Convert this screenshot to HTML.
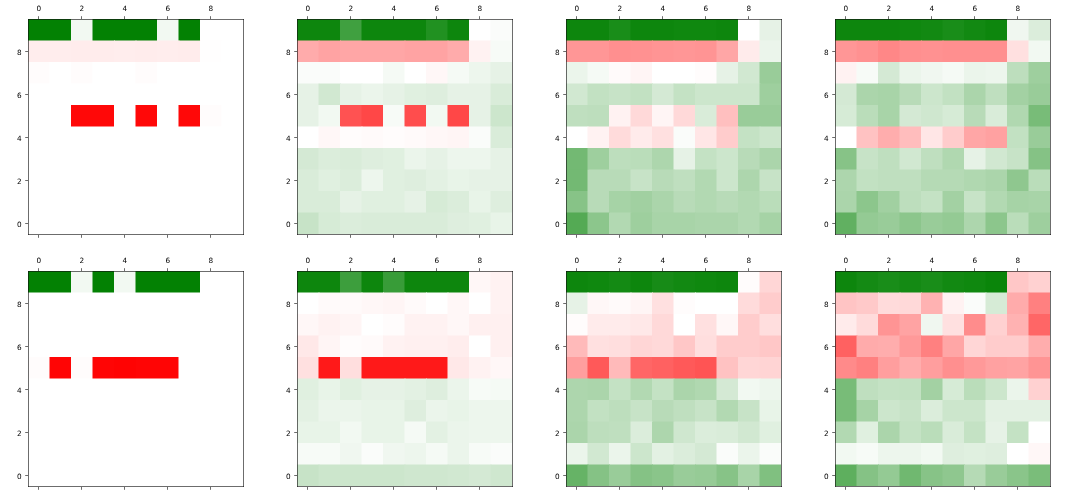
<!DOCTYPE html><html><head><meta charset="utf-8"><title>heatmaps</title><style>html,body{margin:0;padding:0;background:#fff}svg{display:block;will-change:transform}text{font-family:"DejaVu Sans","Liberation Sans",sans-serif;font-size:7.3px;fill:#000}line{stroke:#111;stroke-width:0.62}</style></head><body>
<svg width="1077" height="501" viewBox="0 0 1077 501">
<rect width="1077" height="501" fill="#fff"/>
<g>
<g>
<rect x="28" y="19" width="44" height="22.5" fill="#038103"/>
<rect x="71" y="19" width="22.5" height="22.5" fill="#f2f9f2"/>
<rect x="92.5" y="19" width="65.5" height="22.5" fill="#038103"/>
<rect x="157" y="19" width="22.5" height="22.5" fill="#f2f9f2"/>
<rect x="178.5" y="19" width="22.5" height="22.5" fill="#038103"/>
<rect x="200" y="19" width="43" height="22.5" fill="#ffffff"/>
<rect x="28" y="40.5" width="44" height="22.5" fill="#ffeded"/>
<rect x="71" y="40.5" width="44" height="22.5" fill="#ffecec"/>
<rect x="114" y="40.5" width="22.5" height="22.5" fill="#ffeded"/>
<rect x="135.5" y="40.5" width="22.5" height="22.5" fill="#ffecec"/>
<rect x="157" y="40.5" width="22.5" height="22.5" fill="#ffeded"/>
<rect x="178.5" y="40.5" width="22.5" height="22.5" fill="#ffecec"/>
<rect x="200" y="40.5" width="22.5" height="22.5" fill="#fffefe"/>
<rect x="221.5" y="40.5" width="21.5" height="22.5" fill="#ffffff"/>
<rect x="28" y="62" width="22.5" height="22.5" fill="#fffcfc"/>
<rect x="49.5" y="62" width="22.5" height="22.5" fill="#ffffff"/>
<rect x="71" y="62" width="22.5" height="22.5" fill="#fffcfc"/>
<rect x="92.5" y="62" width="44" height="22.5" fill="#ffffff"/>
<rect x="135.5" y="62" width="22.5" height="22.5" fill="#fffcfc"/>
<rect x="157" y="62" width="86" height="22.5" fill="#ffffff"/>
<rect x="28" y="83.5" width="215" height="22.5" fill="#ffffff"/>
<rect x="28" y="105" width="44" height="22.5" fill="#ffffff"/>
<rect x="71" y="105" width="44" height="22.5" fill="#ff0808"/>
<rect x="114" y="105" width="22.5" height="22.5" fill="#ffffff"/>
<rect x="135.5" y="105" width="22.5" height="22.5" fill="#ff0808"/>
<rect x="157" y="105" width="22.5" height="22.5" fill="#ffffff"/>
<rect x="178.5" y="105" width="22.5" height="22.5" fill="#ff0808"/>
<rect x="200" y="105" width="22.5" height="22.5" fill="#fffcfc"/>
<rect x="221.5" y="105" width="21.5" height="22.5" fill="#ffffff"/>
<rect x="28" y="126.5" width="215" height="22.5" fill="#ffffff"/>
<rect x="28" y="148" width="215" height="22.5" fill="#ffffff"/>
<rect x="28" y="169.5" width="215" height="22.5" fill="#ffffff"/>
<rect x="28" y="191" width="215" height="22.5" fill="#ffffff"/>
<rect x="28" y="212.5" width="215" height="21.5" fill="#ffffff"/>
</g>
<line x1="28.5" y1="19" x2="28.5" y2="235.0"/><line x1="243.5" y1="19" x2="243.5" y2="235.0"/><line x1="28" y1="19.5" x2="244.0" y2="19.5" stroke-width="0.9"/><line x1="28" y1="234.5" x2="244.0" y2="234.5" stroke-width="0.9"/>
<line x1="38.5" x2="38.5" y1="19" y2="16.2"/>
<line x1="38.5" x2="38.5" y1="235.0" y2="237.8"/>
<text x="38.75" y="11.40" text-anchor="middle">0</text>
<line x1="28" x2="25.2" y1="223.5" y2="223.5"/>
<text x="21.70" y="226.65" text-anchor="end">0</text>
<line x1="81.5" x2="81.5" y1="19" y2="16.2"/>
<line x1="81.5" x2="81.5" y1="235.0" y2="237.8"/>
<text x="81.75" y="11.40" text-anchor="middle">2</text>
<line x1="28" x2="25.2" y1="180.5" y2="180.5"/>
<text x="21.70" y="183.65" text-anchor="end">2</text>
<line x1="124.5" x2="124.5" y1="19" y2="16.2"/>
<line x1="124.5" x2="124.5" y1="235.0" y2="237.8"/>
<text x="124.75" y="11.40" text-anchor="middle">4</text>
<line x1="28" x2="25.2" y1="137.5" y2="137.5"/>
<text x="21.70" y="140.65" text-anchor="end">4</text>
<line x1="167.5" x2="167.5" y1="19" y2="16.2"/>
<line x1="167.5" x2="167.5" y1="235.0" y2="237.8"/>
<text x="167.75" y="11.40" text-anchor="middle">6</text>
<line x1="28" x2="25.2" y1="94.5" y2="94.5"/>
<text x="21.70" y="97.65" text-anchor="end">6</text>
<line x1="210.5" x2="210.5" y1="19" y2="16.2"/>
<line x1="210.5" x2="210.5" y1="235.0" y2="237.8"/>
<text x="210.75" y="11.40" text-anchor="middle">8</text>
<line x1="28" x2="25.2" y1="51.5" y2="51.5"/>
<text x="21.70" y="54.65" text-anchor="end">8</text>
</g>
<g>
<g>
<rect x="297" y="19" width="44" height="22.5" fill="#0d860d"/>
<rect x="340" y="19" width="22.5" height="22.5" fill="#40a040"/>
<rect x="361.5" y="19" width="65.5" height="22.5" fill="#0d860d"/>
<rect x="426" y="19" width="22.5" height="22.5" fill="#219121"/>
<rect x="447.5" y="19" width="22.5" height="22.5" fill="#0d860d"/>
<rect x="469" y="19" width="22.5" height="22.5" fill="#ffffff"/>
<rect x="490.5" y="19" width="21.5" height="22.5" fill="#fafcfa"/>
<rect x="297" y="40.5" width="22.5" height="22.5" fill="#ffabab"/>
<rect x="318.5" y="40.5" width="22.5" height="22.5" fill="#ffa3a3"/>
<rect x="340" y="40.5" width="65.5" height="22.5" fill="#ffa6a6"/>
<rect x="404.5" y="40.5" width="44" height="22.5" fill="#ffa3a3"/>
<rect x="447.5" y="40.5" width="22.5" height="22.5" fill="#ffabab"/>
<rect x="469" y="40.5" width="22.5" height="22.5" fill="#fff2f2"/>
<rect x="490.5" y="40.5" width="21.5" height="22.5" fill="#f7fbf7"/>
<rect x="297" y="62" width="44" height="22.5" fill="#fafcfa"/>
<rect x="340" y="62" width="44" height="22.5" fill="#ffffff"/>
<rect x="383" y="62" width="22.5" height="22.5" fill="#f5faf5"/>
<rect x="404.5" y="62" width="22.5" height="22.5" fill="#ffffff"/>
<rect x="426" y="62" width="22.5" height="22.5" fill="#fff7f7"/>
<rect x="447.5" y="62" width="22.5" height="22.5" fill="#f5faf5"/>
<rect x="469" y="62" width="22.5" height="22.5" fill="#edf6ed"/>
<rect x="490.5" y="62" width="21.5" height="22.5" fill="#e6f2e6"/>
<rect x="297" y="83.5" width="22.5" height="22.5" fill="#e6f2e6"/>
<rect x="318.5" y="83.5" width="22.5" height="22.5" fill="#d1e8d1"/>
<rect x="340" y="83.5" width="22.5" height="22.5" fill="#e6f2e6"/>
<rect x="361.5" y="83.5" width="22.5" height="22.5" fill="#ebf5eb"/>
<rect x="383" y="83.5" width="22.5" height="22.5" fill="#e6f2e6"/>
<rect x="404.5" y="83.5" width="22.5" height="22.5" fill="#e0f0e0"/>
<rect x="426" y="83.5" width="22.5" height="22.5" fill="#deeede"/>
<rect x="447.5" y="83.5" width="44" height="22.5" fill="#e6f2e6"/>
<rect x="490.5" y="83.5" width="21.5" height="22.5" fill="#d9ecd9"/>
<rect x="297" y="105" width="22.5" height="22.5" fill="#e6f2e6"/>
<rect x="318.5" y="105" width="22.5" height="22.5" fill="#f2f9f2"/>
<rect x="340" y="105" width="22.5" height="22.5" fill="#ff5252"/>
<rect x="361.5" y="105" width="22.5" height="22.5" fill="#ff4747"/>
<rect x="383" y="105" width="22.5" height="22.5" fill="#f7fbf7"/>
<rect x="404.5" y="105" width="22.5" height="22.5" fill="#ff4d4d"/>
<rect x="426" y="105" width="22.5" height="22.5" fill="#f2f9f2"/>
<rect x="447.5" y="105" width="22.5" height="22.5" fill="#ff4747"/>
<rect x="469" y="105" width="22.5" height="22.5" fill="#e6f2e6"/>
<rect x="490.5" y="105" width="21.5" height="22.5" fill="#cce6cc"/>
<rect x="297" y="126.5" width="22.5" height="22.5" fill="#ffffff"/>
<rect x="318.5" y="126.5" width="22.5" height="22.5" fill="#fff7f7"/>
<rect x="340" y="126.5" width="22.5" height="22.5" fill="#fffcfc"/>
<rect x="361.5" y="126.5" width="22.5" height="22.5" fill="#fffafa"/>
<rect x="383" y="126.5" width="22.5" height="22.5" fill="#fffcfc"/>
<rect x="404.5" y="126.5" width="22.5" height="22.5" fill="#fffafa"/>
<rect x="426" y="126.5" width="22.5" height="22.5" fill="#fff7f7"/>
<rect x="447.5" y="126.5" width="22.5" height="22.5" fill="#fff5f5"/>
<rect x="469" y="126.5" width="22.5" height="22.5" fill="#fafcfa"/>
<rect x="490.5" y="126.5" width="21.5" height="22.5" fill="#d9ecd9"/>
<rect x="297" y="148" width="22.5" height="22.5" fill="#d4e9d4"/>
<rect x="318.5" y="148" width="22.5" height="22.5" fill="#dbeddb"/>
<rect x="340" y="148" width="22.5" height="22.5" fill="#d9ecd9"/>
<rect x="361.5" y="148" width="22.5" height="22.5" fill="#deeede"/>
<rect x="383" y="148" width="22.5" height="22.5" fill="#e0f0e0"/>
<rect x="404.5" y="148" width="22.5" height="22.5" fill="#ebf5eb"/>
<rect x="426" y="148" width="22.5" height="22.5" fill="#e6f2e6"/>
<rect x="447.5" y="148" width="44" height="22.5" fill="#edf6ed"/>
<rect x="490.5" y="148" width="21.5" height="22.5" fill="#e6f2e6"/>
<rect x="297" y="169.5" width="22.5" height="22.5" fill="#d9ecd9"/>
<rect x="318.5" y="169.5" width="22.5" height="22.5" fill="#e0f0e0"/>
<rect x="340" y="169.5" width="22.5" height="22.5" fill="#dbeddb"/>
<rect x="361.5" y="169.5" width="22.5" height="22.5" fill="#edf6ed"/>
<rect x="383" y="169.5" width="22.5" height="22.5" fill="#e0f0e0"/>
<rect x="404.5" y="169.5" width="22.5" height="22.5" fill="#deeede"/>
<rect x="426" y="169.5" width="22.5" height="22.5" fill="#e3f1e3"/>
<rect x="447.5" y="169.5" width="22.5" height="22.5" fill="#e8f4e8"/>
<rect x="469" y="169.5" width="43" height="22.5" fill="#e6f2e6"/>
<rect x="297" y="191" width="44" height="22.5" fill="#d9ecd9"/>
<rect x="340" y="191" width="22.5" height="22.5" fill="#e6f2e6"/>
<rect x="361.5" y="191" width="44" height="22.5" fill="#e0f0e0"/>
<rect x="404.5" y="191" width="22.5" height="22.5" fill="#e6f2e6"/>
<rect x="426" y="191" width="22.5" height="22.5" fill="#d6ebd6"/>
<rect x="447.5" y="191" width="22.5" height="22.5" fill="#dbeddb"/>
<rect x="469" y="191" width="22.5" height="22.5" fill="#e8f4e8"/>
<rect x="490.5" y="191" width="21.5" height="22.5" fill="#deeede"/>
<rect x="297" y="212.5" width="22.5" height="21.5" fill="#c7e3c7"/>
<rect x="318.5" y="212.5" width="22.5" height="21.5" fill="#d6ebd6"/>
<rect x="340" y="212.5" width="22.5" height="21.5" fill="#dbeddb"/>
<rect x="361.5" y="212.5" width="87" height="21.5" fill="#d9ecd9"/>
<rect x="447.5" y="212.5" width="22.5" height="21.5" fill="#deeede"/>
<rect x="469" y="212.5" width="22.5" height="21.5" fill="#e0f0e0"/>
<rect x="490.5" y="212.5" width="21.5" height="21.5" fill="#e8f4e8"/>
</g>
<line x1="297.5" y1="19" x2="297.5" y2="235.0"/><line x1="512.5" y1="19" x2="512.5" y2="235.0"/><line x1="297" y1="19.5" x2="513.0" y2="19.5" stroke-width="0.9"/><line x1="297" y1="234.5" x2="513.0" y2="234.5" stroke-width="0.9"/>
<line x1="307.5" x2="307.5" y1="19" y2="16.2"/>
<line x1="307.5" x2="307.5" y1="235.0" y2="237.8"/>
<text x="307.75" y="11.40" text-anchor="middle">0</text>
<line x1="297" x2="294.2" y1="223.5" y2="223.5"/>
<text x="290.70" y="226.65" text-anchor="end">0</text>
<line x1="350.5" x2="350.5" y1="19" y2="16.2"/>
<line x1="350.5" x2="350.5" y1="235.0" y2="237.8"/>
<text x="350.75" y="11.40" text-anchor="middle">2</text>
<line x1="297" x2="294.2" y1="180.5" y2="180.5"/>
<text x="290.70" y="183.65" text-anchor="end">2</text>
<line x1="393.5" x2="393.5" y1="19" y2="16.2"/>
<line x1="393.5" x2="393.5" y1="235.0" y2="237.8"/>
<text x="393.75" y="11.40" text-anchor="middle">4</text>
<line x1="297" x2="294.2" y1="137.5" y2="137.5"/>
<text x="290.70" y="140.65" text-anchor="end">4</text>
<line x1="436.5" x2="436.5" y1="19" y2="16.2"/>
<line x1="436.5" x2="436.5" y1="235.0" y2="237.8"/>
<text x="436.75" y="11.40" text-anchor="middle">6</text>
<line x1="297" x2="294.2" y1="94.5" y2="94.5"/>
<text x="290.70" y="97.65" text-anchor="end">6</text>
<line x1="479.5" x2="479.5" y1="19" y2="16.2"/>
<line x1="479.5" x2="479.5" y1="235.0" y2="237.8"/>
<text x="479.75" y="11.40" text-anchor="middle">8</text>
<line x1="297" x2="294.2" y1="51.5" y2="51.5"/>
<text x="290.70" y="54.65" text-anchor="end">8</text>
</g>
<g>
<g>
<rect x="566" y="19" width="44" height="22.5" fill="#0d860d"/>
<rect x="609" y="19" width="22.5" height="22.5" fill="#198d19"/>
<rect x="630.5" y="19" width="44" height="22.5" fill="#0d860d"/>
<rect x="673.5" y="19" width="44" height="22.5" fill="#0f880f"/>
<rect x="716.5" y="19" width="22.5" height="22.5" fill="#0d860d"/>
<rect x="738" y="19" width="22.5" height="22.5" fill="#ffffff"/>
<rect x="759.5" y="19" width="21.5" height="22.5" fill="#e6f2e6"/>
<rect x="566" y="40.5" width="44" height="22.5" fill="#ff9696"/>
<rect x="609" y="40.5" width="22.5" height="22.5" fill="#ff8f8f"/>
<rect x="630.5" y="40.5" width="22.5" height="22.5" fill="#ff9191"/>
<rect x="652" y="40.5" width="22.5" height="22.5" fill="#ff9494"/>
<rect x="673.5" y="40.5" width="22.5" height="22.5" fill="#ff9696"/>
<rect x="695" y="40.5" width="22.5" height="22.5" fill="#ff9494"/>
<rect x="716.5" y="40.5" width="22.5" height="22.5" fill="#ffa6a6"/>
<rect x="738" y="40.5" width="22.5" height="22.5" fill="#ffebeb"/>
<rect x="759.5" y="40.5" width="21.5" height="22.5" fill="#ebf5eb"/>
<rect x="566" y="62" width="22.5" height="22.5" fill="#ebf5eb"/>
<rect x="587.5" y="62" width="22.5" height="22.5" fill="#f5faf5"/>
<rect x="609" y="62" width="22.5" height="22.5" fill="#fffafa"/>
<rect x="630.5" y="62" width="22.5" height="22.5" fill="#fff5f5"/>
<rect x="652" y="62" width="44" height="22.5" fill="#ffffff"/>
<rect x="695" y="62" width="22.5" height="22.5" fill="#fffcfc"/>
<rect x="716.5" y="62" width="22.5" height="22.5" fill="#e6f2e6"/>
<rect x="738" y="62" width="22.5" height="22.5" fill="#d1e8d1"/>
<rect x="759.5" y="62" width="21.5" height="22.5" fill="#99cc99"/>
<rect x="566" y="83.5" width="22.5" height="22.5" fill="#d1e8d1"/>
<rect x="587.5" y="83.5" width="22.5" height="22.5" fill="#c2e1c2"/>
<rect x="609" y="83.5" width="22.5" height="22.5" fill="#c7e3c7"/>
<rect x="630.5" y="83.5" width="22.5" height="22.5" fill="#c2e1c2"/>
<rect x="652" y="83.5" width="22.5" height="22.5" fill="#d4e9d4"/>
<rect x="673.5" y="83.5" width="22.5" height="22.5" fill="#c4e2c4"/>
<rect x="695" y="83.5" width="65.5" height="22.5" fill="#cce6cc"/>
<rect x="759.5" y="83.5" width="21.5" height="22.5" fill="#9ecf9e"/>
<rect x="566" y="105" width="22.5" height="22.5" fill="#bfdfbf"/>
<rect x="587.5" y="105" width="22.5" height="22.5" fill="#bddebd"/>
<rect x="609" y="105" width="22.5" height="22.5" fill="#fff2f2"/>
<rect x="630.5" y="105" width="22.5" height="22.5" fill="#ffd9d9"/>
<rect x="652" y="105" width="22.5" height="22.5" fill="#fff5f5"/>
<rect x="673.5" y="105" width="22.5" height="22.5" fill="#ffd9d9"/>
<rect x="695" y="105" width="22.5" height="22.5" fill="#d9ecd9"/>
<rect x="716.5" y="105" width="22.5" height="22.5" fill="#ffbfbf"/>
<rect x="738" y="105" width="43" height="22.5" fill="#99cc99"/>
<rect x="566" y="126.5" width="22.5" height="22.5" fill="#ffffff"/>
<rect x="587.5" y="126.5" width="22.5" height="22.5" fill="#fff2f2"/>
<rect x="609" y="126.5" width="22.5" height="22.5" fill="#ffdbdb"/>
<rect x="630.5" y="126.5" width="22.5" height="22.5" fill="#ffebeb"/>
<rect x="652" y="126.5" width="22.5" height="22.5" fill="#ffe0e0"/>
<rect x="673.5" y="126.5" width="22.5" height="22.5" fill="#fafcfa"/>
<rect x="695" y="126.5" width="22.5" height="22.5" fill="#ffe6e6"/>
<rect x="716.5" y="126.5" width="22.5" height="22.5" fill="#ffcccc"/>
<rect x="738" y="126.5" width="22.5" height="22.5" fill="#c4e2c4"/>
<rect x="759.5" y="126.5" width="21.5" height="22.5" fill="#cce6cc"/>
<rect x="566" y="148" width="22.5" height="22.5" fill="#73b973"/>
<rect x="587.5" y="148" width="22.5" height="22.5" fill="#9ecf9e"/>
<rect x="609" y="148" width="22.5" height="22.5" fill="#bddebd"/>
<rect x="630.5" y="148" width="22.5" height="22.5" fill="#baddba"/>
<rect x="652" y="148" width="22.5" height="22.5" fill="#add6ad"/>
<rect x="673.5" y="148" width="22.5" height="22.5" fill="#e6f2e6"/>
<rect x="695" y="148" width="22.5" height="22.5" fill="#c4e2c4"/>
<rect x="716.5" y="148" width="22.5" height="22.5" fill="#cce6cc"/>
<rect x="738" y="148" width="22.5" height="22.5" fill="#b8dbb8"/>
<rect x="759.5" y="148" width="21.5" height="22.5" fill="#abd5ab"/>
<rect x="566" y="169.5" width="22.5" height="22.5" fill="#73b973"/>
<rect x="587.5" y="169.5" width="44" height="22.5" fill="#b8dbb8"/>
<rect x="630.5" y="169.5" width="22.5" height="22.5" fill="#c7e3c7"/>
<rect x="652" y="169.5" width="22.5" height="22.5" fill="#b8dbb8"/>
<rect x="673.5" y="169.5" width="22.5" height="22.5" fill="#bfdfbf"/>
<rect x="695" y="169.5" width="22.5" height="22.5" fill="#b2d9b2"/>
<rect x="716.5" y="169.5" width="22.5" height="22.5" fill="#cce6cc"/>
<rect x="738" y="169.5" width="22.5" height="22.5" fill="#add6ad"/>
<rect x="759.5" y="169.5" width="21.5" height="22.5" fill="#c7e3c7"/>
<rect x="566" y="191" width="22.5" height="22.5" fill="#87c387"/>
<rect x="587.5" y="191" width="22.5" height="22.5" fill="#b8dbb8"/>
<rect x="609" y="191" width="22.5" height="22.5" fill="#a6d3a6"/>
<rect x="630.5" y="191" width="22.5" height="22.5" fill="#a1d0a1"/>
<rect x="652" y="191" width="22.5" height="22.5" fill="#abd5ab"/>
<rect x="673.5" y="191" width="22.5" height="22.5" fill="#b8dbb8"/>
<rect x="695" y="191" width="22.5" height="22.5" fill="#b2d9b2"/>
<rect x="716.5" y="191" width="22.5" height="22.5" fill="#b8dbb8"/>
<rect x="738" y="191" width="22.5" height="22.5" fill="#b2d9b2"/>
<rect x="759.5" y="191" width="21.5" height="22.5" fill="#baddba"/>
<rect x="566" y="212.5" width="22.5" height="21.5" fill="#54aa54"/>
<rect x="587.5" y="212.5" width="22.5" height="21.5" fill="#8cc68c"/>
<rect x="609" y="212.5" width="22.5" height="21.5" fill="#b2d9b2"/>
<rect x="630.5" y="212.5" width="22.5" height="21.5" fill="#9ecf9e"/>
<rect x="652" y="212.5" width="44" height="21.5" fill="#a8d4a8"/>
<rect x="695" y="212.5" width="44" height="21.5" fill="#abd5ab"/>
<rect x="738" y="212.5" width="22.5" height="21.5" fill="#b2d9b2"/>
<rect x="759.5" y="212.5" width="21.5" height="21.5" fill="#a6d3a6"/>
</g>
<line x1="566.5" y1="19" x2="566.5" y2="235.0"/><line x1="781.5" y1="19" x2="781.5" y2="235.0"/><line x1="566" y1="19.5" x2="782.0" y2="19.5" stroke-width="0.9"/><line x1="566" y1="234.5" x2="782.0" y2="234.5" stroke-width="0.9"/>
<line x1="576.5" x2="576.5" y1="19" y2="16.2"/>
<line x1="576.5" x2="576.5" y1="235.0" y2="237.8"/>
<text x="576.75" y="11.40" text-anchor="middle">0</text>
<line x1="566" x2="563.2" y1="223.5" y2="223.5"/>
<text x="559.70" y="226.65" text-anchor="end">0</text>
<line x1="619.5" x2="619.5" y1="19" y2="16.2"/>
<line x1="619.5" x2="619.5" y1="235.0" y2="237.8"/>
<text x="619.75" y="11.40" text-anchor="middle">2</text>
<line x1="566" x2="563.2" y1="180.5" y2="180.5"/>
<text x="559.70" y="183.65" text-anchor="end">2</text>
<line x1="662.5" x2="662.5" y1="19" y2="16.2"/>
<line x1="662.5" x2="662.5" y1="235.0" y2="237.8"/>
<text x="662.75" y="11.40" text-anchor="middle">4</text>
<line x1="566" x2="563.2" y1="137.5" y2="137.5"/>
<text x="559.70" y="140.65" text-anchor="end">4</text>
<line x1="705.5" x2="705.5" y1="19" y2="16.2"/>
<line x1="705.5" x2="705.5" y1="235.0" y2="237.8"/>
<text x="705.75" y="11.40" text-anchor="middle">6</text>
<line x1="566" x2="563.2" y1="94.5" y2="94.5"/>
<text x="559.70" y="97.65" text-anchor="end">6</text>
<line x1="748.5" x2="748.5" y1="19" y2="16.2"/>
<line x1="748.5" x2="748.5" y1="235.0" y2="237.8"/>
<text x="748.75" y="11.40" text-anchor="middle">8</text>
<line x1="566" x2="563.2" y1="51.5" y2="51.5"/>
<text x="559.70" y="54.65" text-anchor="end">8</text>
</g>
<g>
<g>
<rect x="835" y="19" width="65.5" height="22.5" fill="#0d860d"/>
<rect x="899.5" y="19" width="22.5" height="22.5" fill="#0f880f"/>
<rect x="921" y="19" width="22.5" height="22.5" fill="#128912"/>
<rect x="942.5" y="19" width="22.5" height="22.5" fill="#198d19"/>
<rect x="964" y="19" width="22.5" height="22.5" fill="#128912"/>
<rect x="985.5" y="19" width="22.5" height="22.5" fill="#0d860d"/>
<rect x="1007" y="19" width="22.5" height="22.5" fill="#f0f7f0"/>
<rect x="1028.5" y="19" width="21.5" height="22.5" fill="#dbeddb"/>
<rect x="835" y="40.5" width="22.5" height="22.5" fill="#ff9696"/>
<rect x="856.5" y="40.5" width="22.5" height="22.5" fill="#ff9191"/>
<rect x="878" y="40.5" width="22.5" height="22.5" fill="#ff8787"/>
<rect x="899.5" y="40.5" width="22.5" height="22.5" fill="#ff8f8f"/>
<rect x="921" y="40.5" width="22.5" height="22.5" fill="#ff9191"/>
<rect x="942.5" y="40.5" width="65.5" height="22.5" fill="#ff8f8f"/>
<rect x="1007" y="40.5" width="22.5" height="22.5" fill="#ffe0e0"/>
<rect x="1028.5" y="40.5" width="21.5" height="22.5" fill="#f2f9f2"/>
<rect x="835" y="62" width="22.5" height="22.5" fill="#fff2f2"/>
<rect x="856.5" y="62" width="22.5" height="22.5" fill="#f7fbf7"/>
<rect x="878" y="62" width="22.5" height="22.5" fill="#d4e9d4"/>
<rect x="899.5" y="62" width="22.5" height="22.5" fill="#ebf5eb"/>
<rect x="921" y="62" width="22.5" height="22.5" fill="#f0f7f0"/>
<rect x="942.5" y="62" width="22.5" height="22.5" fill="#f5faf5"/>
<rect x="964" y="62" width="22.5" height="22.5" fill="#ebf5eb"/>
<rect x="985.5" y="62" width="22.5" height="22.5" fill="#edf6ed"/>
<rect x="1007" y="62" width="22.5" height="22.5" fill="#bddebd"/>
<rect x="1028.5" y="62" width="21.5" height="22.5" fill="#9ecf9e"/>
<rect x="835" y="83.5" width="22.5" height="22.5" fill="#d4e9d4"/>
<rect x="856.5" y="83.5" width="22.5" height="22.5" fill="#abd5ab"/>
<rect x="878" y="83.5" width="22.5" height="22.5" fill="#a8d4a8"/>
<rect x="899.5" y="83.5" width="22.5" height="22.5" fill="#b8dbb8"/>
<rect x="921" y="83.5" width="22.5" height="22.5" fill="#cce6cc"/>
<rect x="942.5" y="83.5" width="22.5" height="22.5" fill="#c2e1c2"/>
<rect x="964" y="83.5" width="22.5" height="22.5" fill="#abd5ab"/>
<rect x="985.5" y="83.5" width="22.5" height="22.5" fill="#bfdfbf"/>
<rect x="1007" y="83.5" width="22.5" height="22.5" fill="#a3d1a3"/>
<rect x="1028.5" y="83.5" width="21.5" height="22.5" fill="#99cc99"/>
<rect x="835" y="105" width="22.5" height="22.5" fill="#d6ebd6"/>
<rect x="856.5" y="105" width="22.5" height="22.5" fill="#baddba"/>
<rect x="878" y="105" width="22.5" height="22.5" fill="#a8d4a8"/>
<rect x="899.5" y="105" width="22.5" height="22.5" fill="#d4e9d4"/>
<rect x="921" y="105" width="22.5" height="22.5" fill="#cfe7cf"/>
<rect x="942.5" y="105" width="22.5" height="22.5" fill="#d6ebd6"/>
<rect x="964" y="105" width="22.5" height="22.5" fill="#b8dbb8"/>
<rect x="985.5" y="105" width="22.5" height="22.5" fill="#d9ecd9"/>
<rect x="1007" y="105" width="22.5" height="22.5" fill="#b0d8b0"/>
<rect x="1028.5" y="105" width="21.5" height="22.5" fill="#78bc78"/>
<rect x="835" y="126.5" width="22.5" height="22.5" fill="#ffffff"/>
<rect x="856.5" y="126.5" width="22.5" height="22.5" fill="#ffc2c2"/>
<rect x="878" y="126.5" width="22.5" height="22.5" fill="#ffadad"/>
<rect x="899.5" y="126.5" width="22.5" height="22.5" fill="#ffbdbd"/>
<rect x="921" y="126.5" width="22.5" height="22.5" fill="#ffe6e6"/>
<rect x="942.5" y="126.5" width="22.5" height="22.5" fill="#ffcccc"/>
<rect x="964" y="126.5" width="22.5" height="22.5" fill="#ffa6a6"/>
<rect x="985.5" y="126.5" width="22.5" height="22.5" fill="#ffa1a1"/>
<rect x="1007" y="126.5" width="22.5" height="22.5" fill="#c2e1c2"/>
<rect x="1028.5" y="126.5" width="21.5" height="22.5" fill="#99cc99"/>
<rect x="835" y="148" width="22.5" height="22.5" fill="#87c387"/>
<rect x="856.5" y="148" width="22.5" height="22.5" fill="#c7e3c7"/>
<rect x="878" y="148" width="22.5" height="22.5" fill="#bfdfbf"/>
<rect x="899.5" y="148" width="22.5" height="22.5" fill="#d1e8d1"/>
<rect x="921" y="148" width="22.5" height="22.5" fill="#bfdfbf"/>
<rect x="942.5" y="148" width="22.5" height="22.5" fill="#b0d8b0"/>
<rect x="964" y="148" width="22.5" height="22.5" fill="#e6f2e6"/>
<rect x="985.5" y="148" width="22.5" height="22.5" fill="#d1e8d1"/>
<rect x="1007" y="148" width="22.5" height="22.5" fill="#c7e3c7"/>
<rect x="1028.5" y="148" width="21.5" height="22.5" fill="#85c285"/>
<rect x="835" y="169.5" width="22.5" height="22.5" fill="#add6ad"/>
<rect x="856.5" y="169.5" width="22.5" height="22.5" fill="#c2e1c2"/>
<rect x="878" y="169.5" width="44" height="22.5" fill="#bfdfbf"/>
<rect x="921" y="169.5" width="44" height="22.5" fill="#b5dab5"/>
<rect x="964" y="169.5" width="22.5" height="22.5" fill="#b0d8b0"/>
<rect x="985.5" y="169.5" width="22.5" height="22.5" fill="#abd5ab"/>
<rect x="1007" y="169.5" width="22.5" height="22.5" fill="#8fc78f"/>
<rect x="1028.5" y="169.5" width="21.5" height="22.5" fill="#baddba"/>
<rect x="835" y="191" width="22.5" height="22.5" fill="#abd5ab"/>
<rect x="856.5" y="191" width="22.5" height="22.5" fill="#8cc68c"/>
<rect x="878" y="191" width="22.5" height="22.5" fill="#a1d0a1"/>
<rect x="899.5" y="191" width="22.5" height="22.5" fill="#bddebd"/>
<rect x="921" y="191" width="22.5" height="22.5" fill="#c4e2c4"/>
<rect x="942.5" y="191" width="22.5" height="22.5" fill="#a3d1a3"/>
<rect x="964" y="191" width="22.5" height="22.5" fill="#c7e3c7"/>
<rect x="985.5" y="191" width="22.5" height="22.5" fill="#b2d9b2"/>
<rect x="1007" y="191" width="22.5" height="22.5" fill="#a6d3a6"/>
<rect x="1028.5" y="191" width="21.5" height="22.5" fill="#a8d4a8"/>
<rect x="835" y="212.5" width="22.5" height="21.5" fill="#61b061"/>
<rect x="856.5" y="212.5" width="22.5" height="21.5" fill="#94ca94"/>
<rect x="878" y="212.5" width="22.5" height="21.5" fill="#99cc99"/>
<rect x="899.5" y="212.5" width="22.5" height="21.5" fill="#8cc68c"/>
<rect x="921" y="212.5" width="22.5" height="21.5" fill="#99cc99"/>
<rect x="942.5" y="212.5" width="22.5" height="21.5" fill="#94ca94"/>
<rect x="964" y="212.5" width="22.5" height="21.5" fill="#add6ad"/>
<rect x="985.5" y="212.5" width="22.5" height="21.5" fill="#8cc68c"/>
<rect x="1007" y="212.5" width="22.5" height="21.5" fill="#baddba"/>
<rect x="1028.5" y="212.5" width="21.5" height="21.5" fill="#9ecf9e"/>
</g>
<line x1="835.5" y1="19" x2="835.5" y2="235.0"/><line x1="1050.5" y1="19" x2="1050.5" y2="235.0"/><line x1="835" y1="19.5" x2="1051.0" y2="19.5" stroke-width="0.9"/><line x1="835" y1="234.5" x2="1051.0" y2="234.5" stroke-width="0.9"/>
<line x1="845.5" x2="845.5" y1="19" y2="16.2"/>
<line x1="845.5" x2="845.5" y1="235.0" y2="237.8"/>
<text x="845.75" y="11.40" text-anchor="middle">0</text>
<line x1="835" x2="832.2" y1="223.5" y2="223.5"/>
<text x="828.70" y="226.65" text-anchor="end">0</text>
<line x1="888.5" x2="888.5" y1="19" y2="16.2"/>
<line x1="888.5" x2="888.5" y1="235.0" y2="237.8"/>
<text x="888.75" y="11.40" text-anchor="middle">2</text>
<line x1="835" x2="832.2" y1="180.5" y2="180.5"/>
<text x="828.70" y="183.65" text-anchor="end">2</text>
<line x1="931.5" x2="931.5" y1="19" y2="16.2"/>
<line x1="931.5" x2="931.5" y1="235.0" y2="237.8"/>
<text x="931.75" y="11.40" text-anchor="middle">4</text>
<line x1="835" x2="832.2" y1="137.5" y2="137.5"/>
<text x="828.70" y="140.65" text-anchor="end">4</text>
<line x1="974.5" x2="974.5" y1="19" y2="16.2"/>
<line x1="974.5" x2="974.5" y1="235.0" y2="237.8"/>
<text x="974.75" y="11.40" text-anchor="middle">6</text>
<line x1="835" x2="832.2" y1="94.5" y2="94.5"/>
<text x="828.70" y="97.65" text-anchor="end">6</text>
<line x1="1017.5" x2="1017.5" y1="19" y2="16.2"/>
<line x1="1017.5" x2="1017.5" y1="235.0" y2="237.8"/>
<text x="1017.75" y="11.40" text-anchor="middle">8</text>
<line x1="835" x2="832.2" y1="51.5" y2="51.5"/>
<text x="828.70" y="54.65" text-anchor="end">8</text>
</g>
<g>
<g>
<rect x="28" y="271" width="44" height="22.5" fill="#038103"/>
<rect x="71" y="271" width="22.5" height="22.5" fill="#f2f9f2"/>
<rect x="92.5" y="271" width="22.5" height="22.5" fill="#038103"/>
<rect x="114" y="271" width="22.5" height="22.5" fill="#f2f9f2"/>
<rect x="135.5" y="271" width="65.5" height="22.5" fill="#038103"/>
<rect x="200" y="271" width="43" height="22.5" fill="#ffffff"/>
<rect x="28" y="292.5" width="215" height="22.5" fill="#ffffff"/>
<rect x="28" y="314" width="215" height="22.5" fill="#ffffff"/>
<rect x="28" y="335.5" width="215" height="22.5" fill="#ffffff"/>
<rect x="28" y="357" width="22.5" height="22.5" fill="#fffcfc"/>
<rect x="49.5" y="357" width="22.5" height="22.5" fill="#ff0505"/>
<rect x="71" y="357" width="22.5" height="22.5" fill="#fffcfc"/>
<rect x="92.5" y="357" width="22.5" height="22.5" fill="#ff0505"/>
<rect x="114" y="357" width="22.5" height="22.5" fill="#ff0303"/>
<rect x="135.5" y="357" width="44" height="22.5" fill="#ff0505"/>
<rect x="178.5" y="357" width="64.5" height="22.5" fill="#ffffff"/>
<rect x="28" y="378.5" width="215" height="22.5" fill="#ffffff"/>
<rect x="28" y="400" width="215" height="22.5" fill="#ffffff"/>
<rect x="28" y="421.5" width="215" height="22.5" fill="#ffffff"/>
<rect x="28" y="443" width="215" height="22.5" fill="#ffffff"/>
<rect x="28" y="464.5" width="215" height="21.5" fill="#ffffff"/>
</g>
<line x1="28.5" y1="271" x2="28.5" y2="487.0"/><line x1="243.5" y1="271" x2="243.5" y2="487.0"/><line x1="28" y1="271.5" x2="244.0" y2="271.5" stroke-width="0.9"/><line x1="28" y1="486.5" x2="244.0" y2="486.5" stroke-width="0.9"/>
<line x1="38.5" x2="38.5" y1="271" y2="268.2"/>
<line x1="38.5" x2="38.5" y1="487.0" y2="489.8"/>
<text x="38.75" y="263.40" text-anchor="middle">0</text>
<line x1="28" x2="25.2" y1="475.5" y2="475.5"/>
<text x="21.70" y="478.65" text-anchor="end">0</text>
<line x1="81.5" x2="81.5" y1="271" y2="268.2"/>
<line x1="81.5" x2="81.5" y1="487.0" y2="489.8"/>
<text x="81.75" y="263.40" text-anchor="middle">2</text>
<line x1="28" x2="25.2" y1="432.5" y2="432.5"/>
<text x="21.70" y="435.65" text-anchor="end">2</text>
<line x1="124.5" x2="124.5" y1="271" y2="268.2"/>
<line x1="124.5" x2="124.5" y1="487.0" y2="489.8"/>
<text x="124.75" y="263.40" text-anchor="middle">4</text>
<line x1="28" x2="25.2" y1="389.5" y2="389.5"/>
<text x="21.70" y="392.65" text-anchor="end">4</text>
<line x1="167.5" x2="167.5" y1="271" y2="268.2"/>
<line x1="167.5" x2="167.5" y1="487.0" y2="489.8"/>
<text x="167.75" y="263.40" text-anchor="middle">6</text>
<line x1="28" x2="25.2" y1="346.5" y2="346.5"/>
<text x="21.70" y="349.65" text-anchor="end">6</text>
<line x1="210.5" x2="210.5" y1="271" y2="268.2"/>
<line x1="210.5" x2="210.5" y1="487.0" y2="489.8"/>
<text x="210.75" y="263.40" text-anchor="middle">8</text>
<line x1="28" x2="25.2" y1="303.5" y2="303.5"/>
<text x="21.70" y="306.65" text-anchor="end">8</text>
</g>
<g>
<g>
<rect x="297" y="271" width="44" height="22.5" fill="#0d860d"/>
<rect x="340" y="271" width="22.5" height="22.5" fill="#3d9e3d"/>
<rect x="361.5" y="271" width="22.5" height="22.5" fill="#0d860d"/>
<rect x="383" y="271" width="22.5" height="22.5" fill="#389c38"/>
<rect x="404.5" y="271" width="65.5" height="22.5" fill="#0d860d"/>
<rect x="469" y="271" width="22.5" height="22.5" fill="#fff7f7"/>
<rect x="490.5" y="271" width="21.5" height="22.5" fill="#fff2f2"/>
<rect x="297" y="292.5" width="22.5" height="22.5" fill="#ffffff"/>
<rect x="318.5" y="292.5" width="44" height="22.5" fill="#fffafa"/>
<rect x="361.5" y="292.5" width="22.5" height="22.5" fill="#fff7f7"/>
<rect x="383" y="292.5" width="22.5" height="22.5" fill="#fff5f5"/>
<rect x="404.5" y="292.5" width="22.5" height="22.5" fill="#fffafa"/>
<rect x="426" y="292.5" width="22.5" height="22.5" fill="#ffffff"/>
<rect x="447.5" y="292.5" width="22.5" height="22.5" fill="#fff7f7"/>
<rect x="469" y="292.5" width="22.5" height="22.5" fill="#ffffff"/>
<rect x="490.5" y="292.5" width="21.5" height="22.5" fill="#fff2f2"/>
<rect x="297" y="314" width="22.5" height="22.5" fill="#fff7f7"/>
<rect x="318.5" y="314" width="22.5" height="22.5" fill="#fff2f2"/>
<rect x="340" y="314" width="22.5" height="22.5" fill="#fff5f5"/>
<rect x="361.5" y="314" width="22.5" height="22.5" fill="#ffffff"/>
<rect x="383" y="314" width="22.5" height="22.5" fill="#fffcfc"/>
<rect x="404.5" y="314" width="44" height="22.5" fill="#fff2f2"/>
<rect x="447.5" y="314" width="22.5" height="22.5" fill="#fff7f7"/>
<rect x="469" y="314" width="43" height="22.5" fill="#fff0f0"/>
<rect x="297" y="335.5" width="22.5" height="22.5" fill="#ffe8e8"/>
<rect x="318.5" y="335.5" width="22.5" height="22.5" fill="#fff5f5"/>
<rect x="340" y="335.5" width="22.5" height="22.5" fill="#fffcfc"/>
<rect x="361.5" y="335.5" width="22.5" height="22.5" fill="#fffafa"/>
<rect x="383" y="335.5" width="22.5" height="22.5" fill="#fff2f2"/>
<rect x="404.5" y="335.5" width="44" height="22.5" fill="#fff0f0"/>
<rect x="447.5" y="335.5" width="22.5" height="22.5" fill="#ffeded"/>
<rect x="469" y="335.5" width="22.5" height="22.5" fill="#ffffff"/>
<rect x="490.5" y="335.5" width="21.5" height="22.5" fill="#fff0f0"/>
<rect x="297" y="357" width="22.5" height="22.5" fill="#ffe0e0"/>
<rect x="318.5" y="357" width="22.5" height="22.5" fill="#ff1919"/>
<rect x="340" y="357" width="22.5" height="22.5" fill="#ffdede"/>
<rect x="361.5" y="357" width="87" height="22.5" fill="#ff1919"/>
<rect x="447.5" y="357" width="22.5" height="22.5" fill="#ffe8e8"/>
<rect x="469" y="357" width="22.5" height="22.5" fill="#fff2f2"/>
<rect x="490.5" y="357" width="21.5" height="22.5" fill="#fff7f7"/>
<rect x="297" y="378.5" width="22.5" height="22.5" fill="#e0f0e0"/>
<rect x="318.5" y="378.5" width="22.5" height="22.5" fill="#e8f4e8"/>
<rect x="340" y="378.5" width="22.5" height="22.5" fill="#e0f0e0"/>
<rect x="361.5" y="378.5" width="44" height="22.5" fill="#e6f2e6"/>
<rect x="404.5" y="378.5" width="22.5" height="22.5" fill="#e3f1e3"/>
<rect x="426" y="378.5" width="22.5" height="22.5" fill="#deeede"/>
<rect x="447.5" y="378.5" width="22.5" height="22.5" fill="#ebf5eb"/>
<rect x="469" y="378.5" width="22.5" height="22.5" fill="#f7fbf7"/>
<rect x="490.5" y="378.5" width="21.5" height="22.5" fill="#f5faf5"/>
<rect x="297" y="400" width="22.5" height="22.5" fill="#e3f1e3"/>
<rect x="318.5" y="400" width="44" height="22.5" fill="#ebf5eb"/>
<rect x="361.5" y="400" width="44" height="22.5" fill="#e8f4e8"/>
<rect x="404.5" y="400" width="22.5" height="22.5" fill="#deeede"/>
<rect x="426" y="400" width="22.5" height="22.5" fill="#ebf5eb"/>
<rect x="447.5" y="400" width="22.5" height="22.5" fill="#e8f4e8"/>
<rect x="469" y="400" width="43" height="22.5" fill="#edf6ed"/>
<rect x="297" y="421.5" width="44" height="22.5" fill="#e8f4e8"/>
<rect x="340" y="421.5" width="22.5" height="22.5" fill="#f2f9f2"/>
<rect x="361.5" y="421.5" width="44" height="22.5" fill="#e8f4e8"/>
<rect x="404.5" y="421.5" width="22.5" height="22.5" fill="#f5faf5"/>
<rect x="426" y="421.5" width="22.5" height="22.5" fill="#e3f1e3"/>
<rect x="447.5" y="421.5" width="22.5" height="22.5" fill="#ebf5eb"/>
<rect x="469" y="421.5" width="43" height="22.5" fill="#edf6ed"/>
<rect x="297" y="443" width="44" height="22.5" fill="#f7fbf7"/>
<rect x="340" y="443" width="22.5" height="22.5" fill="#f0f7f0"/>
<rect x="361.5" y="443" width="22.5" height="22.5" fill="#fafcfa"/>
<rect x="383" y="443" width="22.5" height="22.5" fill="#f0f7f0"/>
<rect x="404.5" y="443" width="22.5" height="22.5" fill="#edf6ed"/>
<rect x="426" y="443" width="22.5" height="22.5" fill="#f5faf5"/>
<rect x="447.5" y="443" width="22.5" height="22.5" fill="#ebf5eb"/>
<rect x="469" y="443" width="22.5" height="22.5" fill="#f7fbf7"/>
<rect x="490.5" y="443" width="21.5" height="22.5" fill="#fafcfa"/>
<rect x="297" y="464.5" width="22.5" height="21.5" fill="#c7e3c7"/>
<rect x="318.5" y="464.5" width="87" height="21.5" fill="#cce6cc"/>
<rect x="404.5" y="464.5" width="44" height="21.5" fill="#cfe7cf"/>
<rect x="447.5" y="464.5" width="22.5" height="21.5" fill="#d1e8d1"/>
<rect x="469" y="464.5" width="22.5" height="21.5" fill="#d4e9d4"/>
<rect x="490.5" y="464.5" width="21.5" height="21.5" fill="#cfe7cf"/>
</g>
<line x1="297.5" y1="271" x2="297.5" y2="487.0"/><line x1="512.5" y1="271" x2="512.5" y2="487.0"/><line x1="297" y1="271.5" x2="513.0" y2="271.5" stroke-width="0.9"/><line x1="297" y1="486.5" x2="513.0" y2="486.5" stroke-width="0.9"/>
<line x1="307.5" x2="307.5" y1="271" y2="268.2"/>
<line x1="307.5" x2="307.5" y1="487.0" y2="489.8"/>
<text x="307.75" y="263.40" text-anchor="middle">0</text>
<line x1="297" x2="294.2" y1="475.5" y2="475.5"/>
<text x="290.70" y="478.65" text-anchor="end">0</text>
<line x1="350.5" x2="350.5" y1="271" y2="268.2"/>
<line x1="350.5" x2="350.5" y1="487.0" y2="489.8"/>
<text x="350.75" y="263.40" text-anchor="middle">2</text>
<line x1="297" x2="294.2" y1="432.5" y2="432.5"/>
<text x="290.70" y="435.65" text-anchor="end">2</text>
<line x1="393.5" x2="393.5" y1="271" y2="268.2"/>
<line x1="393.5" x2="393.5" y1="487.0" y2="489.8"/>
<text x="393.75" y="263.40" text-anchor="middle">4</text>
<line x1="297" x2="294.2" y1="389.5" y2="389.5"/>
<text x="290.70" y="392.65" text-anchor="end">4</text>
<line x1="436.5" x2="436.5" y1="271" y2="268.2"/>
<line x1="436.5" x2="436.5" y1="487.0" y2="489.8"/>
<text x="436.75" y="263.40" text-anchor="middle">6</text>
<line x1="297" x2="294.2" y1="346.5" y2="346.5"/>
<text x="290.70" y="349.65" text-anchor="end">6</text>
<line x1="479.5" x2="479.5" y1="271" y2="268.2"/>
<line x1="479.5" x2="479.5" y1="487.0" y2="489.8"/>
<text x="479.75" y="263.40" text-anchor="middle">8</text>
<line x1="297" x2="294.2" y1="303.5" y2="303.5"/>
<text x="290.70" y="306.65" text-anchor="end">8</text>
</g>
<g>
<g>
<rect x="566" y="271" width="22.5" height="22.5" fill="#0d860d"/>
<rect x="587.5" y="271" width="22.5" height="22.5" fill="#0f880f"/>
<rect x="609" y="271" width="22.5" height="22.5" fill="#148a14"/>
<rect x="630.5" y="271" width="22.5" height="22.5" fill="#0d860d"/>
<rect x="652" y="271" width="22.5" height="22.5" fill="#178b17"/>
<rect x="673.5" y="271" width="22.5" height="22.5" fill="#128912"/>
<rect x="695" y="271" width="22.5" height="22.5" fill="#0f880f"/>
<rect x="716.5" y="271" width="22.5" height="22.5" fill="#0d860d"/>
<rect x="738" y="271" width="22.5" height="22.5" fill="#fffcfc"/>
<rect x="759.5" y="271" width="21.5" height="22.5" fill="#ffd6d6"/>
<rect x="566" y="292.5" width="22.5" height="22.5" fill="#e6f2e6"/>
<rect x="587.5" y="292.5" width="22.5" height="22.5" fill="#fff7f7"/>
<rect x="609" y="292.5" width="22.5" height="22.5" fill="#fffafa"/>
<rect x="630.5" y="292.5" width="22.5" height="22.5" fill="#fff5f5"/>
<rect x="652" y="292.5" width="22.5" height="22.5" fill="#ffe0e0"/>
<rect x="673.5" y="292.5" width="22.5" height="22.5" fill="#fffcfc"/>
<rect x="695" y="292.5" width="44" height="22.5" fill="#ffffff"/>
<rect x="738" y="292.5" width="22.5" height="22.5" fill="#ffdbdb"/>
<rect x="759.5" y="292.5" width="21.5" height="22.5" fill="#ffcccc"/>
<rect x="566" y="314" width="22.5" height="22.5" fill="#fffcfc"/>
<rect x="587.5" y="314" width="44" height="22.5" fill="#ffebeb"/>
<rect x="630.5" y="314" width="22.5" height="22.5" fill="#ffe8e8"/>
<rect x="652" y="314" width="22.5" height="22.5" fill="#ffd9d9"/>
<rect x="673.5" y="314" width="22.5" height="22.5" fill="#ffffff"/>
<rect x="695" y="314" width="22.5" height="22.5" fill="#ffe0e0"/>
<rect x="716.5" y="314" width="22.5" height="22.5" fill="#fff7f7"/>
<rect x="738" y="314" width="22.5" height="22.5" fill="#ffcccc"/>
<rect x="759.5" y="314" width="21.5" height="22.5" fill="#ffdede"/>
<rect x="566" y="335.5" width="22.5" height="22.5" fill="#ffbaba"/>
<rect x="587.5" y="335.5" width="22.5" height="22.5" fill="#ffe0e0"/>
<rect x="609" y="335.5" width="22.5" height="22.5" fill="#ffdede"/>
<rect x="630.5" y="335.5" width="22.5" height="22.5" fill="#ffd6d6"/>
<rect x="652" y="335.5" width="22.5" height="22.5" fill="#ffd9d9"/>
<rect x="673.5" y="335.5" width="22.5" height="22.5" fill="#ffc7c7"/>
<rect x="695" y="335.5" width="22.5" height="22.5" fill="#ffdede"/>
<rect x="716.5" y="335.5" width="44" height="22.5" fill="#ffcccc"/>
<rect x="759.5" y="335.5" width="21.5" height="22.5" fill="#ffc7c7"/>
<rect x="566" y="357" width="22.5" height="22.5" fill="#ff9e9e"/>
<rect x="587.5" y="357" width="22.5" height="22.5" fill="#ff5959"/>
<rect x="609" y="357" width="22.5" height="22.5" fill="#ffbaba"/>
<rect x="630.5" y="357" width="22.5" height="22.5" fill="#ff6666"/>
<rect x="652" y="357" width="22.5" height="22.5" fill="#ff6161"/>
<rect x="673.5" y="357" width="22.5" height="22.5" fill="#ff5959"/>
<rect x="695" y="357" width="22.5" height="22.5" fill="#ff5454"/>
<rect x="716.5" y="357" width="22.5" height="22.5" fill="#ffc2c2"/>
<rect x="738" y="357" width="22.5" height="22.5" fill="#ffd6d6"/>
<rect x="759.5" y="357" width="21.5" height="22.5" fill="#ffd4d4"/>
<rect x="566" y="378.5" width="22.5" height="22.5" fill="#add6ad"/>
<rect x="587.5" y="378.5" width="22.5" height="22.5" fill="#abd5ab"/>
<rect x="609" y="378.5" width="22.5" height="22.5" fill="#c4e2c4"/>
<rect x="630.5" y="378.5" width="22.5" height="22.5" fill="#b2d9b2"/>
<rect x="652" y="378.5" width="22.5" height="22.5" fill="#c4e2c4"/>
<rect x="673.5" y="378.5" width="22.5" height="22.5" fill="#abd5ab"/>
<rect x="695" y="378.5" width="22.5" height="22.5" fill="#b0d8b0"/>
<rect x="716.5" y="378.5" width="22.5" height="22.5" fill="#d4e9d4"/>
<rect x="738" y="378.5" width="22.5" height="22.5" fill="#f2f9f2"/>
<rect x="759.5" y="378.5" width="21.5" height="22.5" fill="#edf6ed"/>
<rect x="566" y="400" width="22.5" height="22.5" fill="#add6ad"/>
<rect x="587.5" y="400" width="22.5" height="22.5" fill="#c2e1c2"/>
<rect x="609" y="400" width="22.5" height="22.5" fill="#bddebd"/>
<rect x="630.5" y="400" width="22.5" height="22.5" fill="#c7e3c7"/>
<rect x="652" y="400" width="22.5" height="22.5" fill="#b8dbb8"/>
<rect x="673.5" y="400" width="22.5" height="22.5" fill="#bfdfbf"/>
<rect x="695" y="400" width="22.5" height="22.5" fill="#c7e3c7"/>
<rect x="716.5" y="400" width="22.5" height="22.5" fill="#b2d9b2"/>
<rect x="738" y="400" width="22.5" height="22.5" fill="#c7e3c7"/>
<rect x="759.5" y="400" width="21.5" height="22.5" fill="#e8f4e8"/>
<rect x="566" y="421.5" width="22.5" height="22.5" fill="#abd5ab"/>
<rect x="587.5" y="421.5" width="22.5" height="22.5" fill="#bddebd"/>
<rect x="609" y="421.5" width="22.5" height="22.5" fill="#bfdfbf"/>
<rect x="630.5" y="421.5" width="22.5" height="22.5" fill="#dbeddb"/>
<rect x="652" y="421.5" width="22.5" height="22.5" fill="#add6ad"/>
<rect x="673.5" y="421.5" width="22.5" height="22.5" fill="#cfe7cf"/>
<rect x="695" y="421.5" width="22.5" height="22.5" fill="#dbeddb"/>
<rect x="716.5" y="421.5" width="22.5" height="22.5" fill="#d9ecd9"/>
<rect x="738" y="421.5" width="22.5" height="22.5" fill="#d1e8d1"/>
<rect x="759.5" y="421.5" width="21.5" height="22.5" fill="#e0f0e0"/>
<rect x="566" y="443" width="22.5" height="22.5" fill="#ebf5eb"/>
<rect x="587.5" y="443" width="22.5" height="22.5" fill="#d1e8d1"/>
<rect x="609" y="443" width="22.5" height="22.5" fill="#ebf5eb"/>
<rect x="630.5" y="443" width="22.5" height="22.5" fill="#cce6cc"/>
<rect x="652" y="443" width="22.5" height="22.5" fill="#e3f1e3"/>
<rect x="673.5" y="443" width="22.5" height="22.5" fill="#dbeddb"/>
<rect x="695" y="443" width="22.5" height="22.5" fill="#d4e9d4"/>
<rect x="716.5" y="443" width="22.5" height="22.5" fill="#fafcfa"/>
<rect x="738" y="443" width="22.5" height="22.5" fill="#ebf5eb"/>
<rect x="759.5" y="443" width="21.5" height="22.5" fill="#fafcfa"/>
<rect x="566" y="464.5" width="22.5" height="21.5" fill="#66b366"/>
<rect x="587.5" y="464.5" width="22.5" height="21.5" fill="#85c285"/>
<rect x="609" y="464.5" width="22.5" height="21.5" fill="#99cc99"/>
<rect x="630.5" y="464.5" width="22.5" height="21.5" fill="#85c285"/>
<rect x="652" y="464.5" width="22.5" height="21.5" fill="#8ac58a"/>
<rect x="673.5" y="464.5" width="22.5" height="21.5" fill="#99cc99"/>
<rect x="695" y="464.5" width="22.5" height="21.5" fill="#96cb96"/>
<rect x="716.5" y="464.5" width="22.5" height="21.5" fill="#87c387"/>
<rect x="738" y="464.5" width="22.5" height="21.5" fill="#a8d4a8"/>
<rect x="759.5" y="464.5" width="21.5" height="21.5" fill="#80c080"/>
</g>
<line x1="566.5" y1="271" x2="566.5" y2="487.0"/><line x1="781.5" y1="271" x2="781.5" y2="487.0"/><line x1="566" y1="271.5" x2="782.0" y2="271.5" stroke-width="0.9"/><line x1="566" y1="486.5" x2="782.0" y2="486.5" stroke-width="0.9"/>
<line x1="576.5" x2="576.5" y1="271" y2="268.2"/>
<line x1="576.5" x2="576.5" y1="487.0" y2="489.8"/>
<text x="576.75" y="263.40" text-anchor="middle">0</text>
<line x1="566" x2="563.2" y1="475.5" y2="475.5"/>
<text x="559.70" y="478.65" text-anchor="end">0</text>
<line x1="619.5" x2="619.5" y1="271" y2="268.2"/>
<line x1="619.5" x2="619.5" y1="487.0" y2="489.8"/>
<text x="619.75" y="263.40" text-anchor="middle">2</text>
<line x1="566" x2="563.2" y1="432.5" y2="432.5"/>
<text x="559.70" y="435.65" text-anchor="end">2</text>
<line x1="662.5" x2="662.5" y1="271" y2="268.2"/>
<line x1="662.5" x2="662.5" y1="487.0" y2="489.8"/>
<text x="662.75" y="263.40" text-anchor="middle">4</text>
<line x1="566" x2="563.2" y1="389.5" y2="389.5"/>
<text x="559.70" y="392.65" text-anchor="end">4</text>
<line x1="705.5" x2="705.5" y1="271" y2="268.2"/>
<line x1="705.5" x2="705.5" y1="487.0" y2="489.8"/>
<text x="705.75" y="263.40" text-anchor="middle">6</text>
<line x1="566" x2="563.2" y1="346.5" y2="346.5"/>
<text x="559.70" y="349.65" text-anchor="end">6</text>
<line x1="748.5" x2="748.5" y1="271" y2="268.2"/>
<line x1="748.5" x2="748.5" y1="487.0" y2="489.8"/>
<text x="748.75" y="263.40" text-anchor="middle">8</text>
<line x1="566" x2="563.2" y1="303.5" y2="303.5"/>
<text x="559.70" y="306.65" text-anchor="end">8</text>
</g>
<g>
<g>
<rect x="835" y="271" width="22.5" height="22.5" fill="#0d860d"/>
<rect x="856.5" y="271" width="22.5" height="22.5" fill="#148a14"/>
<rect x="878" y="271" width="22.5" height="22.5" fill="#198d19"/>
<rect x="899.5" y="271" width="22.5" height="22.5" fill="#148a14"/>
<rect x="921" y="271" width="22.5" height="22.5" fill="#198d19"/>
<rect x="942.5" y="271" width="22.5" height="22.5" fill="#128912"/>
<rect x="964" y="271" width="22.5" height="22.5" fill="#0f880f"/>
<rect x="985.5" y="271" width="22.5" height="22.5" fill="#0a850a"/>
<rect x="1007" y="271" width="22.5" height="22.5" fill="#ffc7c7"/>
<rect x="1028.5" y="271" width="21.5" height="22.5" fill="#ffd1d1"/>
<rect x="835" y="292.5" width="22.5" height="22.5" fill="#ffc4c4"/>
<rect x="856.5" y="292.5" width="22.5" height="22.5" fill="#ffc9c9"/>
<rect x="878" y="292.5" width="22.5" height="22.5" fill="#ffdbdb"/>
<rect x="899.5" y="292.5" width="22.5" height="22.5" fill="#ffd9d9"/>
<rect x="921" y="292.5" width="22.5" height="22.5" fill="#ffb2b2"/>
<rect x="942.5" y="292.5" width="22.5" height="22.5" fill="#fff2f2"/>
<rect x="964" y="292.5" width="22.5" height="22.5" fill="#fafcfa"/>
<rect x="985.5" y="292.5" width="22.5" height="22.5" fill="#d6ebd6"/>
<rect x="1007" y="292.5" width="22.5" height="22.5" fill="#ffabab"/>
<rect x="1028.5" y="292.5" width="21.5" height="22.5" fill="#ff8080"/>
<rect x="835" y="314" width="22.5" height="22.5" fill="#ffebeb"/>
<rect x="856.5" y="314" width="22.5" height="22.5" fill="#ffdbdb"/>
<rect x="878" y="314" width="22.5" height="22.5" fill="#ff9494"/>
<rect x="899.5" y="314" width="22.5" height="22.5" fill="#ffa3a3"/>
<rect x="921" y="314" width="22.5" height="22.5" fill="#f0f7f0"/>
<rect x="942.5" y="314" width="22.5" height="22.5" fill="#ffe0e0"/>
<rect x="964" y="314" width="22.5" height="22.5" fill="#ff8c8c"/>
<rect x="985.5" y="314" width="22.5" height="22.5" fill="#ffd1d1"/>
<rect x="1007" y="314" width="22.5" height="22.5" fill="#ffb2b2"/>
<rect x="1028.5" y="314" width="21.5" height="22.5" fill="#ff6666"/>
<rect x="835" y="335.5" width="22.5" height="22.5" fill="#ff6161"/>
<rect x="856.5" y="335.5" width="22.5" height="22.5" fill="#ffabab"/>
<rect x="878" y="335.5" width="22.5" height="22.5" fill="#ffadad"/>
<rect x="899.5" y="335.5" width="22.5" height="22.5" fill="#ff9999"/>
<rect x="921" y="335.5" width="22.5" height="22.5" fill="#ff8080"/>
<rect x="942.5" y="335.5" width="22.5" height="22.5" fill="#ffa6a6"/>
<rect x="964" y="335.5" width="22.5" height="22.5" fill="#ffd6d6"/>
<rect x="985.5" y="335.5" width="44" height="22.5" fill="#ffcccc"/>
<rect x="1028.5" y="335.5" width="21.5" height="22.5" fill="#ffadad"/>
<rect x="835" y="357" width="22.5" height="22.5" fill="#ff8a8a"/>
<rect x="856.5" y="357" width="22.5" height="22.5" fill="#ff8080"/>
<rect x="878" y="357" width="22.5" height="22.5" fill="#ff9e9e"/>
<rect x="899.5" y="357" width="22.5" height="22.5" fill="#ffadad"/>
<rect x="921" y="357" width="22.5" height="22.5" fill="#ff9e9e"/>
<rect x="942.5" y="357" width="22.5" height="22.5" fill="#ff8f8f"/>
<rect x="964" y="357" width="22.5" height="22.5" fill="#ff9999"/>
<rect x="985.5" y="357" width="22.5" height="22.5" fill="#ffa1a1"/>
<rect x="1007" y="357" width="22.5" height="22.5" fill="#ffa3a3"/>
<rect x="1028.5" y="357" width="21.5" height="22.5" fill="#ff9494"/>
<rect x="835" y="378.5" width="22.5" height="22.5" fill="#78bc78"/>
<rect x="856.5" y="378.5" width="22.5" height="22.5" fill="#bfdfbf"/>
<rect x="878" y="378.5" width="22.5" height="22.5" fill="#c4e2c4"/>
<rect x="899.5" y="378.5" width="22.5" height="22.5" fill="#c2e1c2"/>
<rect x="921" y="378.5" width="22.5" height="22.5" fill="#a3d1a3"/>
<rect x="942.5" y="378.5" width="22.5" height="22.5" fill="#d6ebd6"/>
<rect x="964" y="378.5" width="22.5" height="22.5" fill="#baddba"/>
<rect x="985.5" y="378.5" width="22.5" height="22.5" fill="#cce6cc"/>
<rect x="1007" y="378.5" width="22.5" height="22.5" fill="#ebf5eb"/>
<rect x="1028.5" y="378.5" width="21.5" height="22.5" fill="#ffd1d1"/>
<rect x="835" y="400" width="22.5" height="22.5" fill="#78bc78"/>
<rect x="856.5" y="400" width="22.5" height="22.5" fill="#a6d3a6"/>
<rect x="878" y="400" width="22.5" height="22.5" fill="#cce6cc"/>
<rect x="899.5" y="400" width="22.5" height="22.5" fill="#c7e3c7"/>
<rect x="921" y="400" width="22.5" height="22.5" fill="#dbeddb"/>
<rect x="942.5" y="400" width="44" height="22.5" fill="#cce6cc"/>
<rect x="985.5" y="400" width="64.5" height="22.5" fill="#e3f1e3"/>
<rect x="835" y="421.5" width="22.5" height="22.5" fill="#b2d9b2"/>
<rect x="856.5" y="421.5" width="22.5" height="22.5" fill="#e0f0e0"/>
<rect x="878" y="421.5" width="22.5" height="22.5" fill="#abd5ab"/>
<rect x="899.5" y="421.5" width="22.5" height="22.5" fill="#c4e2c4"/>
<rect x="921" y="421.5" width="22.5" height="22.5" fill="#baddba"/>
<rect x="942.5" y="421.5" width="22.5" height="22.5" fill="#d9ecd9"/>
<rect x="964" y="421.5" width="22.5" height="22.5" fill="#c4e2c4"/>
<rect x="985.5" y="421.5" width="22.5" height="22.5" fill="#e6f2e6"/>
<rect x="1007" y="421.5" width="22.5" height="22.5" fill="#c4e2c4"/>
<rect x="1028.5" y="421.5" width="21.5" height="22.5" fill="#ffffff"/>
<rect x="835" y="443" width="22.5" height="22.5" fill="#f2f9f2"/>
<rect x="856.5" y="443" width="22.5" height="22.5" fill="#f7fbf7"/>
<rect x="878" y="443" width="44" height="22.5" fill="#edf6ed"/>
<rect x="921" y="443" width="22.5" height="22.5" fill="#f2f9f2"/>
<rect x="942.5" y="443" width="22.5" height="22.5" fill="#deeede"/>
<rect x="964" y="443" width="22.5" height="22.5" fill="#e0f0e0"/>
<rect x="985.5" y="443" width="22.5" height="22.5" fill="#deeede"/>
<rect x="1007" y="443" width="22.5" height="22.5" fill="#ffffff"/>
<rect x="1028.5" y="443" width="21.5" height="22.5" fill="#fff7f7"/>
<rect x="835" y="464.5" width="22.5" height="21.5" fill="#5eaf5e"/>
<rect x="856.5" y="464.5" width="22.5" height="21.5" fill="#85c285"/>
<rect x="878" y="464.5" width="22.5" height="21.5" fill="#94ca94"/>
<rect x="899.5" y="464.5" width="22.5" height="21.5" fill="#70b870"/>
<rect x="921" y="464.5" width="22.5" height="21.5" fill="#87c387"/>
<rect x="942.5" y="464.5" width="22.5" height="21.5" fill="#8fc78f"/>
<rect x="964" y="464.5" width="22.5" height="21.5" fill="#b5dab5"/>
<rect x="985.5" y="464.5" width="22.5" height="21.5" fill="#99cc99"/>
<rect x="1007" y="464.5" width="22.5" height="21.5" fill="#8ac58a"/>
<rect x="1028.5" y="464.5" width="21.5" height="21.5" fill="#7abd7a"/>
</g>
<line x1="835.5" y1="271" x2="835.5" y2="487.0"/><line x1="1050.5" y1="271" x2="1050.5" y2="487.0"/><line x1="835" y1="271.5" x2="1051.0" y2="271.5" stroke-width="0.9"/><line x1="835" y1="486.5" x2="1051.0" y2="486.5" stroke-width="0.9"/>
<line x1="845.5" x2="845.5" y1="271" y2="268.2"/>
<line x1="845.5" x2="845.5" y1="487.0" y2="489.8"/>
<text x="845.75" y="263.40" text-anchor="middle">0</text>
<line x1="835" x2="832.2" y1="475.5" y2="475.5"/>
<text x="828.70" y="478.65" text-anchor="end">0</text>
<line x1="888.5" x2="888.5" y1="271" y2="268.2"/>
<line x1="888.5" x2="888.5" y1="487.0" y2="489.8"/>
<text x="888.75" y="263.40" text-anchor="middle">2</text>
<line x1="835" x2="832.2" y1="432.5" y2="432.5"/>
<text x="828.70" y="435.65" text-anchor="end">2</text>
<line x1="931.5" x2="931.5" y1="271" y2="268.2"/>
<line x1="931.5" x2="931.5" y1="487.0" y2="489.8"/>
<text x="931.75" y="263.40" text-anchor="middle">4</text>
<line x1="835" x2="832.2" y1="389.5" y2="389.5"/>
<text x="828.70" y="392.65" text-anchor="end">4</text>
<line x1="974.5" x2="974.5" y1="271" y2="268.2"/>
<line x1="974.5" x2="974.5" y1="487.0" y2="489.8"/>
<text x="974.75" y="263.40" text-anchor="middle">6</text>
<line x1="835" x2="832.2" y1="346.5" y2="346.5"/>
<text x="828.70" y="349.65" text-anchor="end">6</text>
<line x1="1017.5" x2="1017.5" y1="271" y2="268.2"/>
<line x1="1017.5" x2="1017.5" y1="487.0" y2="489.8"/>
<text x="1017.75" y="263.40" text-anchor="middle">8</text>
<line x1="835" x2="832.2" y1="303.5" y2="303.5"/>
<text x="828.70" y="306.65" text-anchor="end">8</text>
</g>
</svg></body></html>
